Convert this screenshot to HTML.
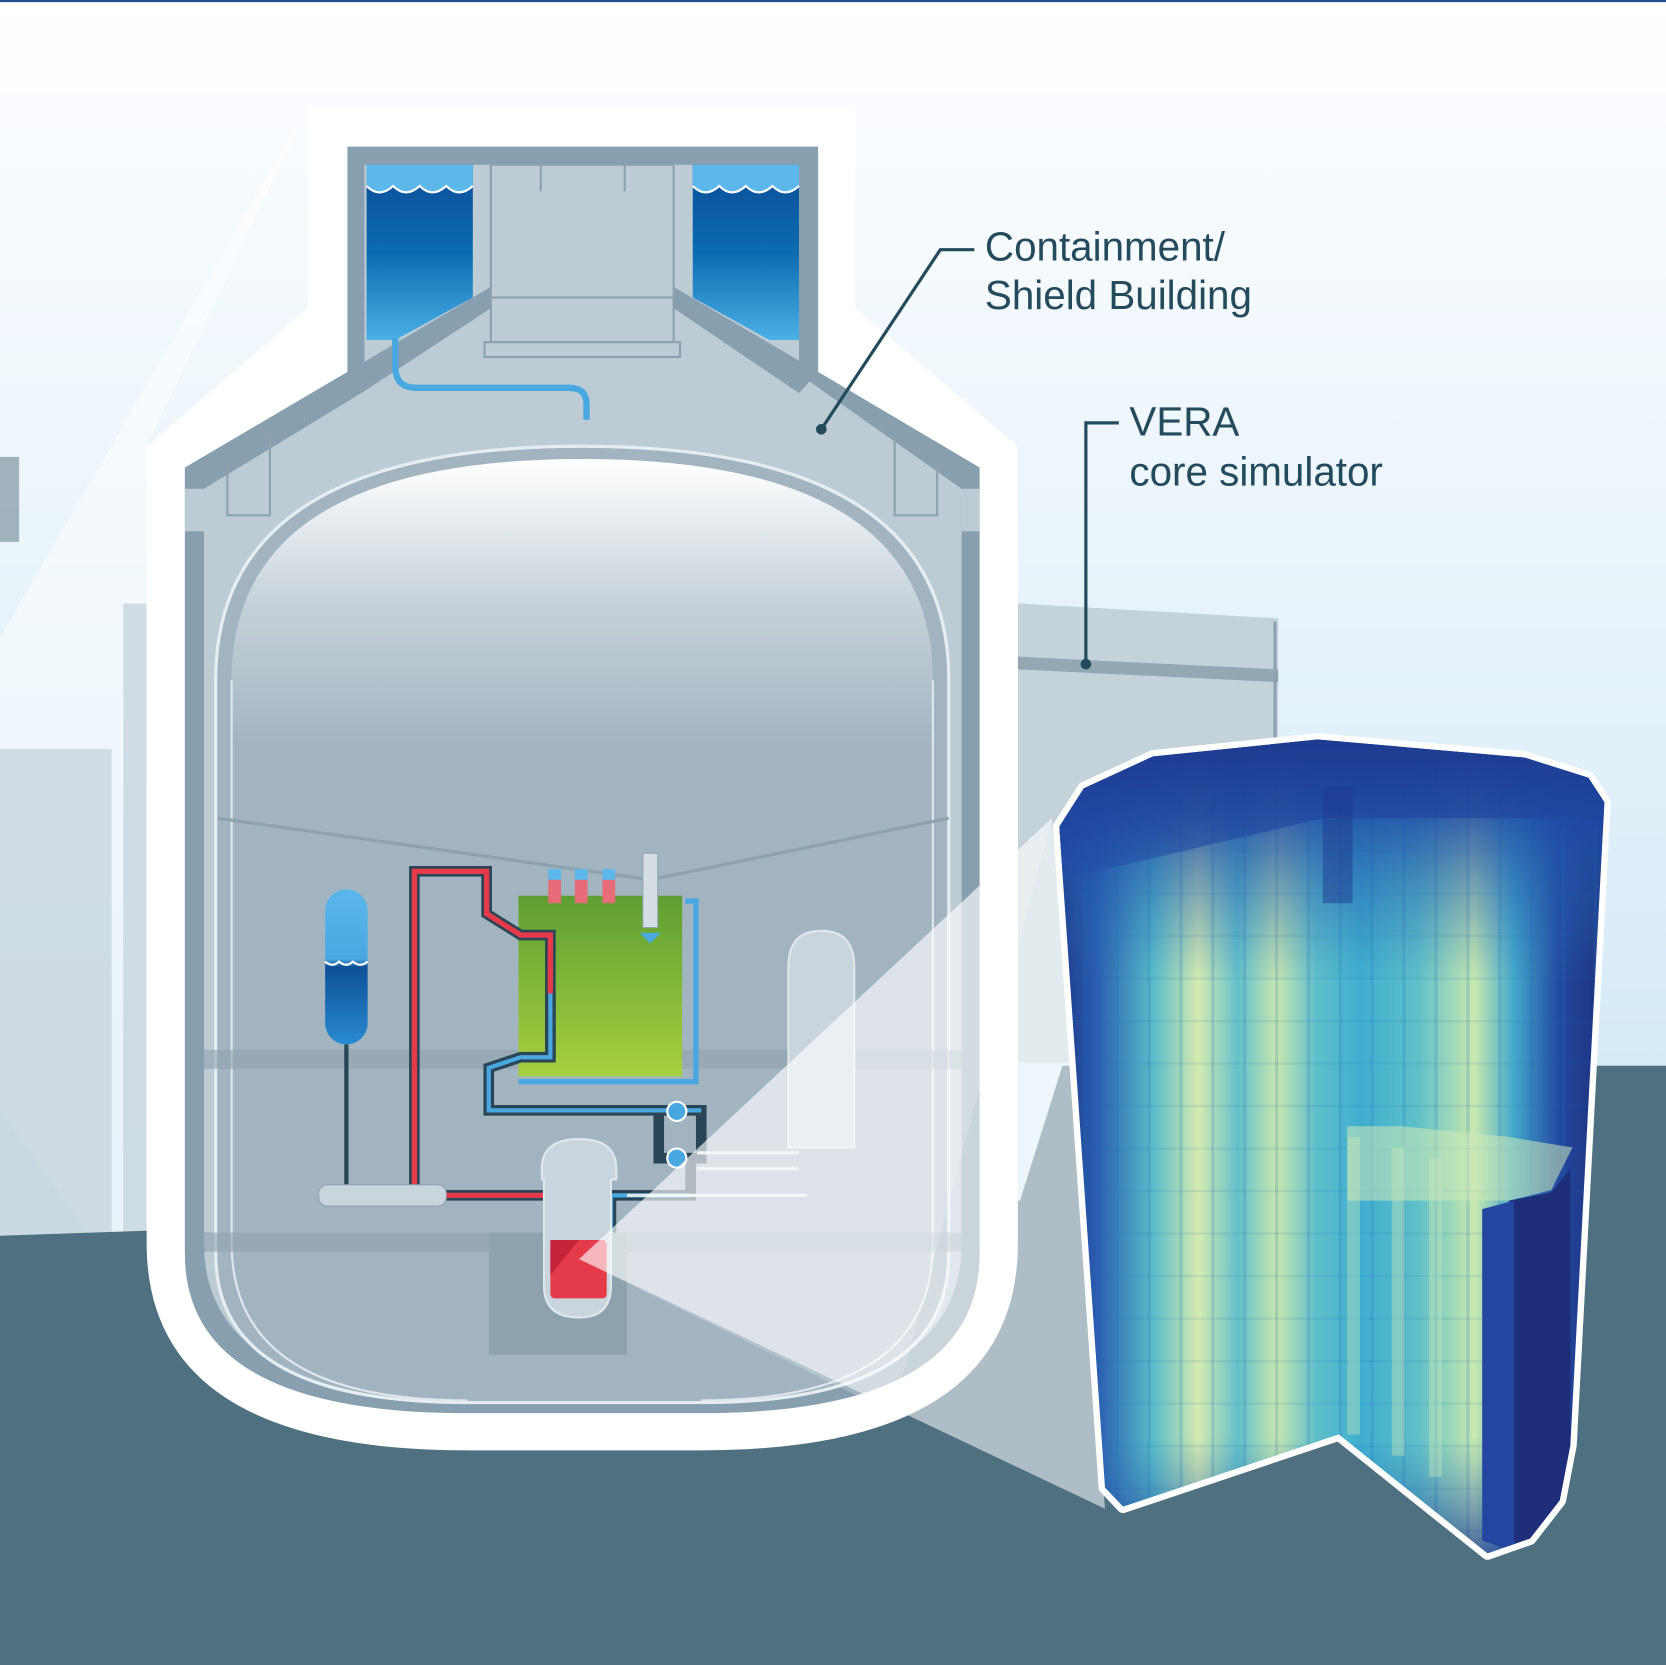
<!DOCTYPE html>
<html><head><meta charset="utf-8"><style>
html,body{margin:0;padding:0;width:1666px;height:1665px;overflow:hidden;background:#fff}
svg{display:block}
</style></head><body>
<svg width="1666" height="1665" viewBox="0 0 1568 1567" preserveAspectRatio="none" xmlns="http://www.w3.org/2000/svg">
<defs>
<linearGradient id="sky" x1="0" y1="0" x2="0" y2="1">
<stop offset="0" stop-color="#ffffff"/><stop offset="0.05" stop-color="#fbfdff"/><stop offset="0.65" stop-color="#d5eaf6"/><stop offset="1" stop-color="#cfe6f3"/></linearGradient>
<linearGradient id="dome" x1="0" y1="0" x2="0" y2="1">
<stop offset="0" stop-color="#ffffff"/><stop offset="0.5" stop-color="#c6d2da"/><stop offset="1" stop-color="#a4b5c0"/></linearGradient>
<linearGradient id="water" x1="0" y1="0" x2="0" y2="1">
<stop offset="0" stop-color="#0c4e97"/><stop offset="0.5" stop-color="#0c6bb0"/><stop offset="1" stop-color="#4bb0e6"/></linearGradient>
<linearGradient id="green" x1="0" y1="0" x2="0" y2="1">
<stop offset="0" stop-color="#5e9e33"/><stop offset="1" stop-color="#a6d03f"/></linearGradient>
<linearGradient id="tank" x1="0" y1="0" x2="0" y2="1">
<stop offset="0" stop-color="#5bb7ea"/><stop offset="0.45" stop-color="#4aa8e0"/><stop offset="0.5" stop-color="#0d4f97"/><stop offset="1" stop-color="#2a8bd0"/></linearGradient>
<linearGradient id="core" x1="0" y1="0" x2="1" y2="0">
<stop offset="0" stop-color="#1b2f80"/><stop offset="0.08" stop-color="#2a5eb0"/><stop offset="0.18" stop-color="#59bcc9"/><stop offset="0.26" stop-color="#d6eab0"/><stop offset="0.33" stop-color="#63c1cb"/><stop offset="0.4" stop-color="#c7e6b0"/><stop offset="0.47" stop-color="#5fbfca"/><stop offset="0.55" stop-color="#40aed0"/><stop offset="0.65" stop-color="#5fc0c8"/><stop offset="0.75" stop-color="#c9e8b0"/><stop offset="0.82" stop-color="#44a8cc"/><stop offset="0.9" stop-color="#2349a0"/><stop offset="1" stop-color="#1c2a72"/></linearGradient>
<linearGradient id="coreV" x1="0" y1="0" x2="0" y2="1">
<stop offset="0" stop-color="#1c3a95" stop-opacity="1"/><stop offset="0.1" stop-color="#1f4aa5" stop-opacity="0.85"/><stop offset="0.3" stop-color="#2a70b8" stop-opacity="0"/><stop offset="0.85" stop-color="#2a70b8" stop-opacity="0"/><stop offset="1" stop-color="#1d3590" stop-opacity="0.8"/></linearGradient>
<linearGradient id="ctop" x1="0" y1="0" x2="0" y2="1">
<stop offset="0" stop-color="#1d3a90"/><stop offset="1" stop-color="#2250a8" stop-opacity="0.5"/></linearGradient>
<pattern id="stripes" width="30" height="40" patternUnits="userSpaceOnUse">
<rect x="0" width="3" height="40" fill="#1d6fb5" opacity="0.2"/><rect y="0" width="30" height="2" fill="#1d6fb5" opacity="0.12"/></pattern>
<clipPath id="coreclip"><path d="M997,778 L1020,742 L1085,712 L1240,696 L1435,713 L1495,732 L1510,755 L1478,1360 L1468,1412 L1440,1448 L1400,1462 L1260,1350 L1057,1418 L1040,1400 Z"/></clipPath>
</defs>
<rect width="1568" height="1567" fill="url(#sky)"/>
<rect width="1568" height="2" fill="#1d4f8f"/>
<polygon points="290,100 0,600 0,1045 140,1240 138,420" fill="#ffffff" opacity="0.45"/>
<g fill="#c8d6de" opacity="0.8">
<rect x="0" y="705" width="105" height="460"/><rect x="116" y="568" width="22" height="600"/><rect x="0" y="430" width="18" height="80" fill="#8ea2ad"/></g>
<polygon points="958,568 1203,582 1203,1000 958,1000" fill="#c4d2da"/>
<polygon points="958,618 1203,630 1203,642 958,630" fill="#93a8b3"/>
<line x1="1200" y1="585" x2="1200" y2="1000" stroke="#8ea2ad" stroke-width="3"/>
<polygon points="0,1163 960,1130 1000,1003 1568,1003 1568,1567 0,1567" fill="#4f7080"/>
<path d="M290,100 L805,100 L805,290 L958,420 L958,1170 Q958,1365 660,1365 L440,1365 Q138,1365 138,1170 L138,420 L290,290 Z" fill="#ffffff"/>
<path d="M327,138 L770,138 L770,350 L922,440 L922,1180 Q922,1330 660,1330 L440,1330 Q174,1330 174,1180 L174,440 L327,350 Z" fill="#879faf"/>
<path d="M192,460 L340,370 L343,350 L343,155 L752,155 L752,352 L905,460 L905,1170 Q905,1315 660,1315 L440,1315 Q192,1315 192,1170 Z" fill="#bccbd4"/>
<rect x="462" y="155" width="172" height="125" fill="#bccbd4" stroke="#8ea2ad" stroke-width="2"/>
<rect x="462" y="280" width="172" height="42" fill="#bccbd4" stroke="#8ea2ad" stroke-width="2"/>
<rect x="456" y="322" width="184" height="14" fill="#bccbd4" stroke="#8ea2ad" stroke-width="2"/>
<path d="M509,155 v25 M588,155 v25" stroke="#8ea2ad" stroke-width="2"/>
<polygon points="327,350 462,270 462,290 340,370" fill="#879faf"/>
<polygon points="770,350 634,270 634,290 752,370" fill="#879faf"/>
<path d="M345,155 L445,155 L445,280 L372,320 L345,320 Z" fill="url(#water)"/>
<path d="M652,155 L752,155 L752,320 L724,320 L652,280 Z" fill="url(#water)"/>
<path d="M345,175 q12,12 25,0 q12,12 25,0 q12,12 25,0 q12,12 25,0 L445,155 L345,155Z" fill="#5cb8ea"/>
<path d="M652,175 q12,12 25,0 q12,12 25,0 q12,12 25,0 q12,12 25,0 L752,155 L652,155Z" fill="#5cb8ea"/>
<path d="M345,175 q12,12 25,0 q12,12 25,0 q12,12 25,0 q12,12 25,0 M652,175 q12,12 25,0 q12,12 25,0 q12,12 25,0 q12,12 25,0" fill="none" stroke="#fff" stroke-width="2"/>
<path d="M372,318 V345 Q372,365 392,365 H535 Q552,365 552,380 V395" fill="none" stroke="#4aa8e0" stroke-width="6"/>
<path d="M214,440 V485 H254 V410 M842,410 V485 H882 V440" fill="none" stroke="#8ea2ad" stroke-width="2"/>
<rect x="174" y="460" width="18" height="40" fill="#bccbd4"/><rect x="905" y="460" width="17" height="40" fill="#bccbd4"/>
<path d="M203,965 V640 Q203,420 548,420 Q893,420 893,640 V965 L893,1180 Q893,1320 660,1320 L440,1320 Q203,1320 203,1180 Z" fill="#a2b4c0" stroke="#e6edf1" stroke-width="3"/>
<path d="M218,640 Q218,432 548,432 Q878,432 878,640 L878,700 L218,700 Z" fill="url(#dome)"/>
<path d="M218,640 V1170 Q218,1318 440,1318 M878,640 V1170 Q878,1318 660,1318" fill="none" stroke="#dfe7ec" stroke-width="2"/>
<polyline points="205,770 612,828 893,770" fill="none" stroke="#8ea2ad" stroke-width="3"/>
<rect x="192" y="988" width="714" height="18" fill="#8ea2ad" opacity="0.6"/>
<rect x="192" y="1160" width="714" height="18" fill="#8ea2ad" opacity="0.6"/>
<rect x="460" y="1160" width="130" height="115" fill="#8ea2ad"/>
<rect x="488" y="843" width="154" height="170" fill="url(#green)"/>
<rect x="516" y="820" width="12" height="30" fill="#e86b7a"/><rect x="541" y="820" width="12" height="30" fill="#e86b7a"/><rect x="567" y="820" width="12" height="30" fill="#e86b7a"/>
<rect x="516" y="818" width="12" height="10" fill="#5cb8ea"/><rect x="541" y="818" width="12" height="10" fill="#5cb8ea"/><rect x="567" y="818" width="12" height="10" fill="#5cb8ea"/>
<rect x="605" y="803" width="14" height="70" fill="#d5dee3" stroke="#8ea2ad"/>
<polygon points="602,878 622,878 612,888" fill="#4aa8e0"/>
<path d="M645,848 H655 V1018 H488" fill="none" stroke="#4aa8e0" stroke-width="5"/>
<path d="M518,1160 V1125 H390 V820 H458 V860 L490,880 H518 V995" fill="none" stroke="#2a4656" stroke-width="10"/>
<path d="M518,1160 V1125 H390 V820 H458 V860 L490,880 H518 V935" fill="none" stroke="#e53a4a" stroke-width="5"/>
<path d="M518,935 V995 H490 L460,1005 V1045 H660 V1090 H620 V1050" fill="none" stroke="#2a4656" stroke-width="10"/>
<path d="M518,935 V995 H490 L460,1005 V1045 H660" fill="none" stroke="#4aa8e0" stroke-width="4"/>
<path d="M575,1160 V1125 H650 V1090" fill="none" stroke="#2a4656" stroke-width="10"/>
<path d="M575,1160 V1125 H650" fill="none" stroke="#4aa8e0" stroke-width="4"/>
<circle cx="637" cy="1046" r="9" fill="#4aa8e0" stroke="#fff" stroke-width="2"/>
<circle cx="637" cy="1090" r="9" fill="#4aa8e0" stroke="#fff" stroke-width="2"/>
<path d="M510,1100 Q510,1072 545,1072 Q580,1072 580,1100 V1110 H575 V1210 Q575,1240 545,1240 Q512,1240 512,1210 V1110 H510 Z" fill="#c9d5dc" stroke="#dfe7ec" stroke-width="2"/>
<rect x="518" y="1167" width="53" height="55" rx="4" fill="#e53a4a"/>
<polygon points="518,1167 545,1167 518,1200" fill="#c4243a"/>
<rect x="306" y="837" width="40" height="146" rx="20" fill="url(#tank)"/>
<path d="M306,905 q7,6 13,0 q7,6 13,0 q7,6 14,0" fill="none" stroke="#fff" stroke-width="2"/>
<line x1="326" y1="983" x2="326" y2="1120" stroke="#2a4656" stroke-width="4"/>
<rect x="300" y="1115" width="120" height="20" rx="8" fill="#c9d5dc" stroke="#8ea2ad"/>
<path d="M742,910 Q742,876 773,876 Q804,876 804,910 V1080 H742 Z" fill="#c9d5dc" stroke="#dfe7ec" stroke-width="2"/>
<path d="M656,1085 H752 M656,1100 H752 M590,1125 H760" stroke="#dfe7ec" stroke-width="3"/>
<polygon points="545,1185 990,770 1040,1420" fill="#ffffff" opacity="0.55"/>
<polygon points="545,1185 990,770 840,1330" fill="#ffffff" opacity="0.2"/>
<path d="M997,778 L1020,742 L1085,712 L1240,696 L1435,713 L1495,732 L1510,755 L1478,1360 L1468,1412 L1440,1448 L1400,1462 L1260,1350 L1057,1418 L1040,1400 Z" fill="none" stroke="#fff" stroke-width="12" stroke-linejoin="round"/>
<g clip-path="url(#coreclip)">
<rect x="990" y="690" width="530" height="780" fill="url(#core)"/>
<rect x="990" y="690" width="530" height="780" fill="url(#stripes)"/>
<rect x="990" y="690" width="530" height="780" fill="url(#coreV)"/>
<polygon points="990,690 1520,690 1520,770 1245,770 990,830" fill="url(#ctop)"/>
<rect x="1245" y="740" width="28" height="110" fill="#1d3a90" opacity="0.5"/>
<polygon points="1268,1060 1320,1060 1420,1070 1480,1080 1460,1120 1420,1130 1268,1130" fill="#cde9b8" opacity="0.55"/>
<rect x="1268" y="1070" width="12" height="280" fill="#c9e8b8" opacity="0.4"/>
<rect x="1310" y="1080" width="12" height="290" fill="#c9e8b8" opacity="0.4"/>
<rect x="1345" y="1090" width="12" height="300" fill="#c9e8b8" opacity="0.4"/>
<polygon points="1420,1130 1460,1122 1478,1100 1478,1460 1420,1460" fill="#1f2e78"/>
<polygon points="1395,1138 1425,1130 1425,1460 1395,1450" fill="#2445a0"/>
</g>
<polyline points="773,404 885,235 917,235" fill="none" stroke="#244b5c" stroke-width="3"/>
<circle cx="773" cy="404" r="5" fill="#244b5c"/>
<polyline points="1022,625 1022,398 1053,398" fill="none" stroke="#244b5c" stroke-width="3"/>
<circle cx="1022" cy="625" r="5" fill="#244b5c"/>
<g font-family="Liberation Sans, Arial, sans-serif" font-size="38" fill="#244b5c">
<text x="927" y="245">Containment/</text>
<text x="927" y="291">Shield Building</text>
<text x="1063" y="410">VERA</text>
<text x="1063" y="457">core simulator</text>
</g>
</svg>
</body></html>
